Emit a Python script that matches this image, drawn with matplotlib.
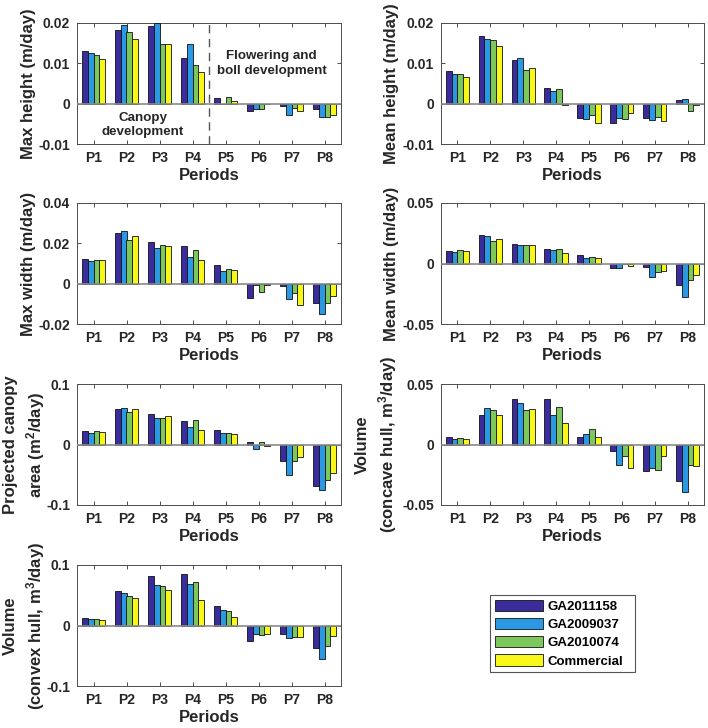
import matplotlib
matplotlib.use("Agg")
import matplotlib.pyplot as plt
import numpy as np
from matplotlib.ticker import FuncFormatter
from matplotlib.patches import Rectangle

plt.rcParams['font.family'] = ['Liberation Sans', 'DejaVu Sans']
plt.rcParams['font.weight'] = 'bold'
plt.rcParams['axes.unicode_minus'] = False
plt.rcParams['mathtext.fontset'] = 'custom'
plt.rcParams['mathtext.rm'] = 'Liberation Sans:bold'
plt.rcParams['mathtext.bf'] = 'Liberation Sans:bold'
plt.rcParams['mathtext.default'] = 'bf'

periods = ['P1', 'P2', 'P3', 'P4', 'P5', 'P6', 'P7', 'P8']
genotypes = ['GA2011158', 'GA2009037', 'GA2010074', 'Commercial']
colors = ['#3A2C9C', '#2A98E2', '#7CC85C', '#F7F71A']

# values per genotype (rows) across periods P1..P8
max_height = [
    [0.0130, 0.01825, 0.01925, 0.0114, 0.0013, -0.0017, -0.0007, -0.0012],
    [0.0126, 0.0194, 0.0200, 0.0148, -0.0001, -0.0014, -0.0027, -0.0033],
    [0.0121, 0.01775, 0.0149, 0.0096, 0.00175, -0.0012, -0.0010, -0.0033],
    [0.0111, 0.0161, 0.0147, 0.0079, 0.0007, -0.0001, -0.0017, -0.0028],
]
mean_height = [
    [0.0082, 0.01675, 0.01075, 0.0038, -0.0035, -0.0047, -0.0036, 0.0009],
    [0.0073, 0.0161, 0.0113, 0.00325, -0.0039, -0.0035, -0.0041, 0.0012],
    [0.0074, 0.01575, 0.0084, 0.0036, -0.0029, -0.0038, -0.0032, -0.0018],
    [0.0066, 0.0142, 0.0088, -0.0004, -0.0048, -0.0022, -0.0043, -0.0004],
]
max_width = [
    [0.0124, 0.0252, 0.0207, 0.0187, 0.0091, -0.0069, -0.0012, -0.0097],
    [0.0114, 0.0262, 0.0178, 0.0131, 0.0064, -0.0007, -0.0074, -0.0148],
    [0.0119, 0.0217, 0.0193, 0.0165, 0.0072, -0.0039, -0.0047, -0.0096],
    [0.0118, 0.0235, 0.0185, 0.0118, 0.0069, -0.0007, -0.0106, -0.0059],
]
mean_width = [
    [0.0106, 0.0238, 0.0165, 0.0123, 0.0067, -0.0034, -0.0028, -0.0176],
    [0.0095, 0.0227, 0.0154, 0.0112, 0.0042, -0.0036, -0.0112, -0.0277],
    [0.0109, 0.0185, 0.0154, 0.0123, 0.0056, -0.0008, -0.0067, -0.0140],
    [0.0101, 0.0204, 0.0154, 0.0087, 0.0048, -0.0022, -0.0059, -0.0095],
]
canopy_area = [
    [0.0218, 0.0594, 0.0504, 0.0392, 0.0235, 0.0045, -0.0269, -0.0683],
    [0.0190, 0.0605, 0.0437, 0.0286, 0.0196, -0.0073, -0.0504, -0.0756],
    [0.0224, 0.0538, 0.0437, 0.0403, 0.0190, 0.0034, -0.0269, -0.0583],
    [0.0202, 0.0583, 0.0471, 0.0235, 0.0168, -0.0028, -0.0202, -0.0471],
]
vol_concave = [
    [0.0064, 0.0246, 0.0373, 0.0378, 0.0062, -0.0050, -0.0216, -0.0305],
    [0.0048, 0.0300, 0.0345, 0.0246, 0.0090, -0.0171, -0.0193, -0.0389],
    [0.0056, 0.0289, 0.0283, 0.0308, 0.0129, -0.0092, -0.0207, -0.0171],
    [0.0045, 0.0244, 0.0297, 0.0174, 0.0062, -0.0193, -0.0092, -0.0179],
]
vol_convex = [
    [0.0123, 0.0574, 0.0813, 0.0852, 0.0323, -0.0262, -0.0134, -0.0368],
    [0.0100, 0.0529, 0.0674, 0.0685, 0.0251, -0.0145, -0.0201, -0.0546],
    [0.0106, 0.0485, 0.0652, 0.0713, 0.0240, -0.0156, -0.0195, -0.0345],
    [0.0095, 0.0451, 0.0585, 0.0423, 0.0145, -0.0139, -0.0189, -0.0167],
]

ylabels = [
    'Max height (m/day)',
    'Mean height (m/day)',
    'Max width (m/day)',
    'Mean width (m/day)',
    'Projected canopy\narea (m$^2$/day)',
    'Volume\n(concave hull, m$^3$/day)',
    'Volume\n(convex hull, m$^3$/day)',
]
yticks = [
    [-0.01, 0, 0.01, 0.02],
    [-0.01, 0, 0.01, 0.02],
    [-0.02, 0, 0.02, 0.04],
    [-0.05, 0, 0.05],
    [-0.1, 0, 0.1],
    [-0.05, 0, 0.05],
    [-0.1, 0, 0.1],
]
datasets = [max_height, mean_height, max_width, mean_width,
            canopy_area, vol_concave, vol_convex]

W, H = 708, 728
fig = plt.figure(figsize=(W / 100, H / 100), dpi=100)

lefts_px = [77, 441]
widths_px = [264, 263]
bottoms_px = [144, 324, 505, 686]
height_px = 121
# right edge (px) of each y label
label_right_px = [36, 399, 36, 399, 47, 399, 47]

x = np.arange(1, len(periods) + 1)
bw = 0.177
spine_col = '#4d4d4d'

handles = []
for i, data in enumerate(datasets):
    r, c = divmod(i, 2)
    ax = fig.add_axes([lefts_px[c] / W, 1 - bottoms_px[r] / H,
                       widths_px[c] / W, height_px / H])
    for g in range(len(genotypes)):
        offs = (g - 1.5) * bw
        h = ax.bar(x + offs, data[g], width=bw, color=colors[g],
                   edgecolor='#111111', linewidth=0.6, zorder=3,
                   label=genotypes[g])
        if i == 0:
            handles.append(h)
    ax.axhline(0, color='#8a8a8a', linewidth=1.2, zorder=4)
    ax.set_xlim(0.5, 8.5)
    yt = yticks[i]
    ax.set_ylim(yt[0], yt[-1])
    ax.set_yticks(yt)
    ax.yaxis.set_major_formatter(FuncFormatter(lambda v, p: '%g' % v))
    ax.set_xticks(x)
    ax.set_xticklabels(periods)
    ax.tick_params(direction='in', length=3, width=0.7, top=True, right=True,
                   labelsize=10, colors=spine_col, labelcolor='#262626', pad=5)
    for lab in ax.get_xticklabels() + ax.get_yticklabels():
        lab.set_fontweight('bold')
    for s in ax.spines.values():
        s.set_color(spine_col)
        s.set_linewidth(0.7)
    ax.set_xlabel('Periods', fontsize=12, fontweight='bold', color='#262626',
                  labelpad=2)
    ax.set_ylabel(ylabels[i], fontsize=12, fontweight='bold', color='#262626',
                  linespacing=1.35)
    ax.yaxis.set_label_coords((label_right_px[i] - lefts_px[c]) / widths_px[c], 0.5)
    if i == 0:
        ax.axvline(4.5, color='#555555', linestyle=(0, (6, 4)), linewidth=1.0,
                   zorder=5)
        ax.text(6.4, 0.0100, 'Flowering and\nboll development', ha='center',
                va='center', fontsize=9.6, fontweight='bold', color='#262626',
                linespacing=1.3)
        ax.text(2.5, -0.0053, 'Canopy\ndevelopment', ha='center',
                va='center', fontsize=9.6, fontweight='bold', color='#262626',
                linespacing=1.3)

# legend frame (drawn separately to match the wider box of the original)
fig.patches.append(Rectangle((490 / W, 1 - 672 / H), 145 / W, 77 / H,
                             transform=fig.transFigure, facecolor='white',
                             edgecolor='#555555', linewidth=0.8, zorder=1))
leg = fig.legend(handles=handles, labels=genotypes, loc='upper left',
                 bbox_to_anchor=(492 / W, 1 - 597 / H), frameon=False,
                 fontsize=9.5, handlelength=3.7, handleheight=0.95,
                 handletextpad=0.3, labelspacing=0.38,
                 borderpad=0.2, borderaxespad=0)
for t in leg.get_texts():
    t.set_fontweight('bold')

fig.savefig('out.png', dpi=100)
